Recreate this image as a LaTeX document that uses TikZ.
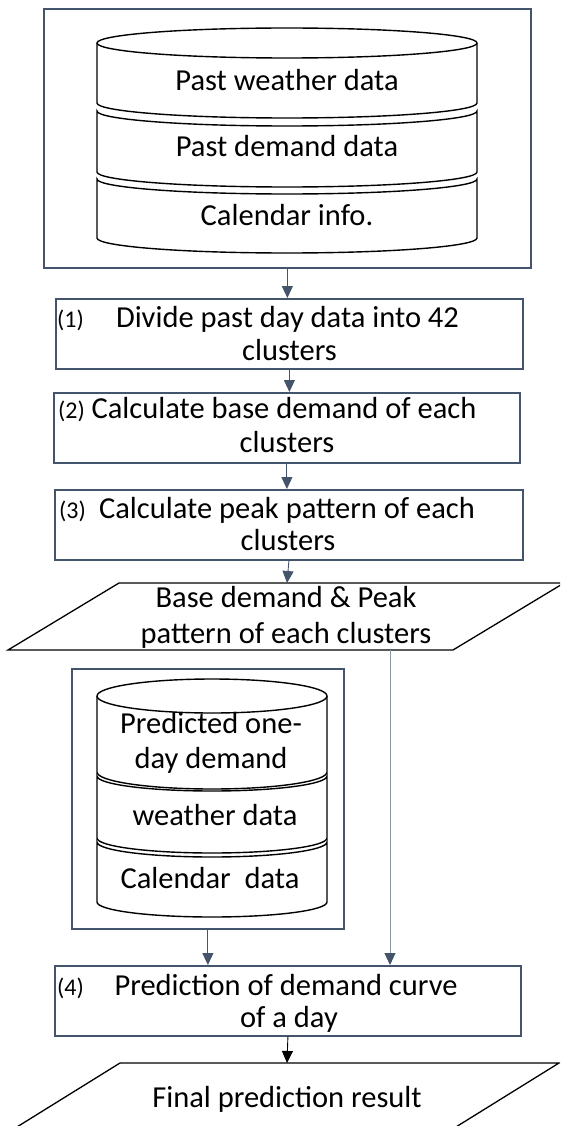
\documentclass[tikz,border=0pt]{standalone}
\usepackage{fontspec}
\setmainfont{Carlito}
\usetikzlibrary{arrows.meta,calc}
\definecolor{slate}{RGB}{68,84,106}
\definecolor{slatelight}{RGB}{138,152,172}

% one slice of a stacked database: centre x, x radius, y radius, top, bottom
\newcommand\dbslice[5]{%
  \draw[dbline] ({#1-#2},-#4) arc[start angle=180,end angle=360,x radius=#2,y radius=#3]
    -- ({#1+#2},-#5) arc[start angle=0,end angle=-180,x radius=#2,y radius=#3] -- cycle;}
% the top slice, with its full lid
\newcommand\dbtop[5]{%
  \draw[dbline] ({#1-#2},-#4) -- ({#1-#2},-#5)
    arc[start angle=180,end angle=360,x radius=#2,y radius=#3]
    -- ({#1+#2},-#4) arc[start angle=0,end angle=180,x radius=#2,y radius=#3] -- cycle;
  \draw[dbline,fill=none] ({#1-#2},-#4) arc[start angle=180,end angle=360,x radius=#2,y radius=#3];}

\begin{document}
\begin{tikzpicture}[x=1pt,y=1pt,
  frame/.style={draw=slate,line width=1.8pt,inner sep=0pt,anchor=north west},
  dbline/.style={draw=black,line width=1.4pt,fill=white},
  io/.style={draw=black,line width=1.3pt,line join=miter},
  txt/.style={inner sep=0pt,anchor=base,font=\fontsize{30.5}{34}\selectfont},
  tag/.style={inner sep=0pt,anchor=base west,font=\fontsize{24}{26}\selectfont},
  flow/.style={draw=slate,line width=0.9pt,-{Triangle[length=12pt,width=11pt]}},
  feed/.style={draw=slatelight,line width=0.9pt,-{Triangle[length=12pt,width=11pt,color=slate]}},
  result/.style={draw=black,line width=0.9pt,-{Triangle[length=12pt,width=11pt]}}]
\useasboundingbox (0,0) rectangle (560,-1126);

% frames and process boxes
\node[frame,minimum width=487pt,minimum height=259pt] (src) at (43,-8) {};
\node[frame,minimum width=467pt,minimum height=70pt] (box1) at (55,-298) {};
\node[frame,minimum width=466pt,minimum height=70pt] (box2) at (53,-392) {};
\node[frame,minimum width=468pt,minimum height=70pt] (box3) at (54,-489) {};
\node[frame,minimum width=272pt,minimum height=260pt] (inbox) at (71,-668) {};
\node[frame,minimum width=466pt,minimum height=70pt] (box4) at (54,-965) {};

% past data store
\dbtop{287}{190}{15}{43}{103}
\dbslice{287}{190}{15}{111}{172}
\dbslice{287}{190}{15}{179}{238}
\node[txt] (pw) at (287,-91) {Past weather data};
\node[txt] (pd) at (287,-157) {Past demand data};
\node[txt] (pc) at (287,-225) {Calendar info.};

% forecast input store
\dbtop{212}{115}{17}{696}{772}
\dbslice{212}{115}{15}{776}{838}
\dbslice{212}{115}{15}{842}{902}
\node[txt] (fd1) at (211,-733) {Predicted one-};
\node[txt] (fd2) at (211,-768) {day demand};
\node[txt] (fw) at (215,-825) {weather data};
\node[txt] (fc) at (210,-888) {Calendar\ \ data};

% input/output parallelograms
\begin{scope}
  \clip (0,0) rectangle (560,-1126);
  \draw[io] (119,-583) -- (564,-583) -- (453,-650) -- (8,-650) -- cycle;
  \draw[io] (120,-1063) -- (559,-1063) -- (443,-1135) -- (4,-1135) -- cycle;
\end{scope}
\coordinate (p1top) at (287,-583);
\coordinate (p1out) at (390,-650);
\coordinate (p2top) at (287,-1063);

% box texts
\node[tag] (n1) at (57,-327) {(1)};
\node[txt] (s1a) at (287.5,-327) {Divide past day data into 42};
\node[txt] (s1b) at (289.5,-360) {clusters};
\node[tag] (n2) at (58,-418) {(2)};
\node[txt] (s2a) at (284,-418) {Calculate base demand of each};
\node[txt] (s2b) at (287,-452) {clusters};
\node[tag] (n3) at (59,-518) {(3)};
\node[txt] (s3a) at (287,-518) {Calculate peak pattern of each};
\node[txt] (s3b) at (288,-550) {clusters};
\node[txt] (o1a) at (286,-607) {Base demand \& Peak};
\node[txt] (o1b) at (286,-643) {pattern of each clusters};
\node[tag] (n4) at (57,-995) {(4)};
\node[txt] (s4a) at (286,-995) {Prediction of demand curve};
\node[txt] (s4b) at (289,-1027) {of a day};
\node[txt] (o2) at (287,-1107) {Final prediction result};

% connectors
\draw[flow] (src.south) -- (src.south |- box1.north);
\draw[flow] (box1.south) -- (box1.south |- box2.north);
\draw[flow] (box2.south) -- (box2.south |- box3.north);
\draw[flow] (box3.south) -- (p1top);
\draw[feed] (p1out) -- (p1out |- box4.north);
\draw[flow] (inbox.south) -- (inbox.south |- box4.north);
\draw[result] (box4.south) -- (p2top);
\end{tikzpicture}
\end{document}
